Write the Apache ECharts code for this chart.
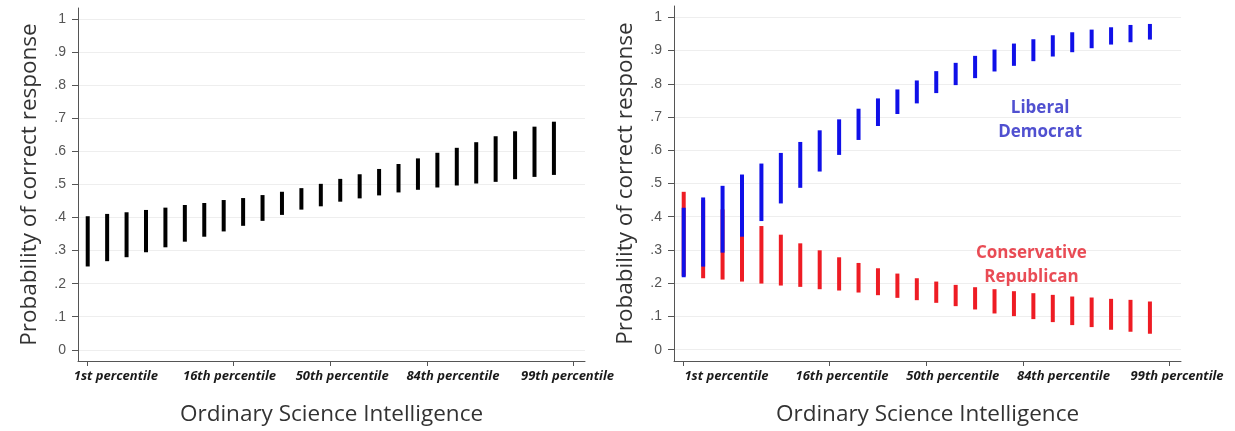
<!DOCTYPE html>
<html><head><meta charset="utf-8">
<script src="https://cdn.jsdelivr.net/npm/echarts@6/dist/echarts.min.js"></script>
<style>html,body{margin:0;padding:0;background:#fff}#c{width:1235px;height:431px}</style>
</head><body><div id="c"></div>
<script>
// OSI position (in SD units) of each interval
const osiSD = [-2.5,-2.3,-2.1,-1.9,-1.7,-1.5,-1.3,-1.1,-0.9,-0.7,-0.5,-0.3,-0.1,0.1,0.3,0.5,0.7,0.9,1.1,1.3,1.5,1.7,1.9,2.1,2.3];
// Left panel: whole sample
const allLo = [0.252,0.268,0.280,0.295,0.310,0.327,0.342,0.358,0.375,0.390,0.408,0.424,0.434,0.448,0.458,0.467,0.476,0.484,0.491,0.497,0.503,0.508,0.516,0.523,0.529];
const allHi = [0.404,0.411,0.416,0.423,0.430,0.438,0.444,0.453,0.459,0.468,0.478,0.489,0.502,0.517,0.531,0.547,0.562,0.579,0.596,0.611,0.628,0.646,0.661,0.675,0.690];
// Right panel: Liberal Democrat
const demLo = [0.218,0.250,0.292,0.340,0.387,0.440,0.487,0.536,0.586,0.631,0.673,0.709,0.741,0.772,0.796,0.817,0.837,0.854,0.868,0.882,0.895,0.907,0.918,0.925,0.933];
const demHi = [0.427,0.458,0.493,0.527,0.560,0.592,0.625,0.660,0.693,0.725,0.756,0.783,0.810,0.838,0.863,0.884,0.903,0.921,0.934,0.946,0.955,0.963,0.970,0.977,0.980];
// Right panel: Conservative Republican
const repLo = [0.222,0.215,0.211,0.205,0.199,0.193,0.189,0.182,0.178,0.172,0.164,0.156,0.149,0.141,0.131,0.121,0.109,0.101,0.092,0.083,0.074,0.068,0.060,0.054,0.048];
const repHi = [0.475,0.450,0.422,0.394,0.372,0.346,0.320,0.299,0.278,0.261,0.245,0.229,0.215,0.205,0.195,0.188,0.182,0.176,0.170,0.165,0.160,0.157,0.153,0.150,0.145];
// Axis ticks and labels
const percentileLabels = ['1st percentile','16th percentile','50th percentile','84th percentile','99th percentile'];
const percentileTickSD = [-2.5,-1,0,1,2.5];
const leftLabelSD = [-2.21,-1.04,0.12,1.26,2.44];
const rightLabelSD = [-2.06,-0.87,0.27,1.41,2.58];
const yTicks = [0,0.1,0.2,0.3,0.4,0.5,0.6,0.7,0.8,0.9,1];
const yTickLabels = ['0','.1','.2','.3','.4','.5','.6','.7','.8','.9','1'];

function rows(lo, hi){ return osiSD.map((x,i)=>[x, lo[i], hi[i]]); }
function rangeBar(color, w){
  return function(params, api){
    const x = api.value(0), lo = api.value(1), hi = api.value(2);
    const p1 = api.coord([x, hi]), p2 = api.coord([x, lo]);
    return {type:'rect', shape:{x:p1[0]-w/2, y:p1[1], width:w, height:p2[1]-p1[1]}, style:{fill:color}};
  };
}
function labelFor(arr){
  return function(v){
    for (let i=0;i<arr.length;i++) if (Math.abs(arr[i]-v)<1e-6) return percentileLabels[i];
    return '';
  };
}
function makeX(g, labelAt){
  return {type:'value', gridIndex:g, min:-2.6, max:2.62,
    axisLine:{show:true, onZero:false, lineStyle:{color:'#555', width:1}},
    axisTick:{show:true, length:5, customValues:percentileTickSD, lineStyle:{color:'#555'}},
    axisLabel:{customValues:labelAt, formatter:labelFor(labelAt), margin:9, hideOverlap:false,
      fontFamily:'Open Sans', fontStyle:'italic', fontWeight:'bold', fontSize:13, color:'#1a1a1a'},
    splitLine:{show:false},
    name:'Ordinary Science Intelligence', nameLocation:'middle', nameGap:42,
    nameTextStyle:{fontFamily:'Open Sans', fontSize:22.5, color:'#333'}
  };
}
function makeY(g){
  return {type:'value', gridIndex:g, min:-0.034, max:1.034,
    axisLine:{show:true, onZero:false, lineStyle:{color:'#555', width:1}},
    axisTick:{show:true, length:6, customValues:yTicks, lineStyle:{color:'#555'}},
    axisLabel:{customValues:yTicks, margin:12, fontFamily:'Liberation Sans', fontSize:14, color:'#555',
      formatter:function(v){ for (let i=0;i<yTicks.length;i++) if (Math.abs(yTicks[i]-v)<1e-6) return yTickLabels[i]; return ''; }},
    splitLine:{show:true, lineStyle:{color:'#eeeeee', width:1}},
    name:'Probability of correct response', nameLocation:'middle', nameGap:37, nameRotate:90,
    nameTextStyle:{fontFamily:'Open Sans', fontSize:22.5, color:'#333'}
  };
}
const chart = echarts.init(document.getElementById('c'), null, {renderer:'canvas'});
chart.setOption({
  animation:false,
  backgroundColor:'#ffffff',
  grid:[
    {left:78, top:8, width:507, height:354.6},
    {left:674, top:6, width:507, height:355.3}
  ],
  xAxis:[makeX(0, leftLabelSD), makeX(1, rightLabelSD)],
  yAxis:[makeY(0), makeY(1)],
  series:[
    {type:'custom', name:'All', xAxisIndex:0, yAxisIndex:0, renderItem:rangeBar('#000000',4),
      encode:{x:0, y:[1,2]}, data:rows(allLo, allHi)},
    {type:'custom', name:'Conservative Republican', xAxisIndex:1, yAxisIndex:1, renderItem:rangeBar('#ee1c24',4),
      encode:{x:0, y:[1,2]}, data:rows(repLo, repHi)},
    {type:'custom', name:'Liberal Democrat', xAxisIndex:1, yAxisIndex:1, renderItem:rangeBar('#1010e8',4),
      encode:{x:0, y:[1,2]}, data:rows(demLo, demHi)},
    {type:'scatter', xAxisIndex:1, yAxisIndex:1, symbolSize:0, silent:true,
      data:[[1.17, 0.692]],
      label:{show:true, position:'inside', formatter:'Liberal\nDemocrat', fontFamily:'Open Sans', fontWeight:'bold',
        fontSize:17, lineHeight:24, color:'#2424c4', align:'center'}},
    {type:'scatter', xAxisIndex:1, yAxisIndex:1, symbolSize:0, silent:true,
      data:[[1.08, 0.254]],
      label:{show:true, position:'inside', formatter:'Conservative\nRepublican', fontFamily:'Open Sans', fontWeight:'bold',
        fontSize:17, lineHeight:24, color:'#e41f2b', align:'center'}}
  ]
});
</script></body></html>
